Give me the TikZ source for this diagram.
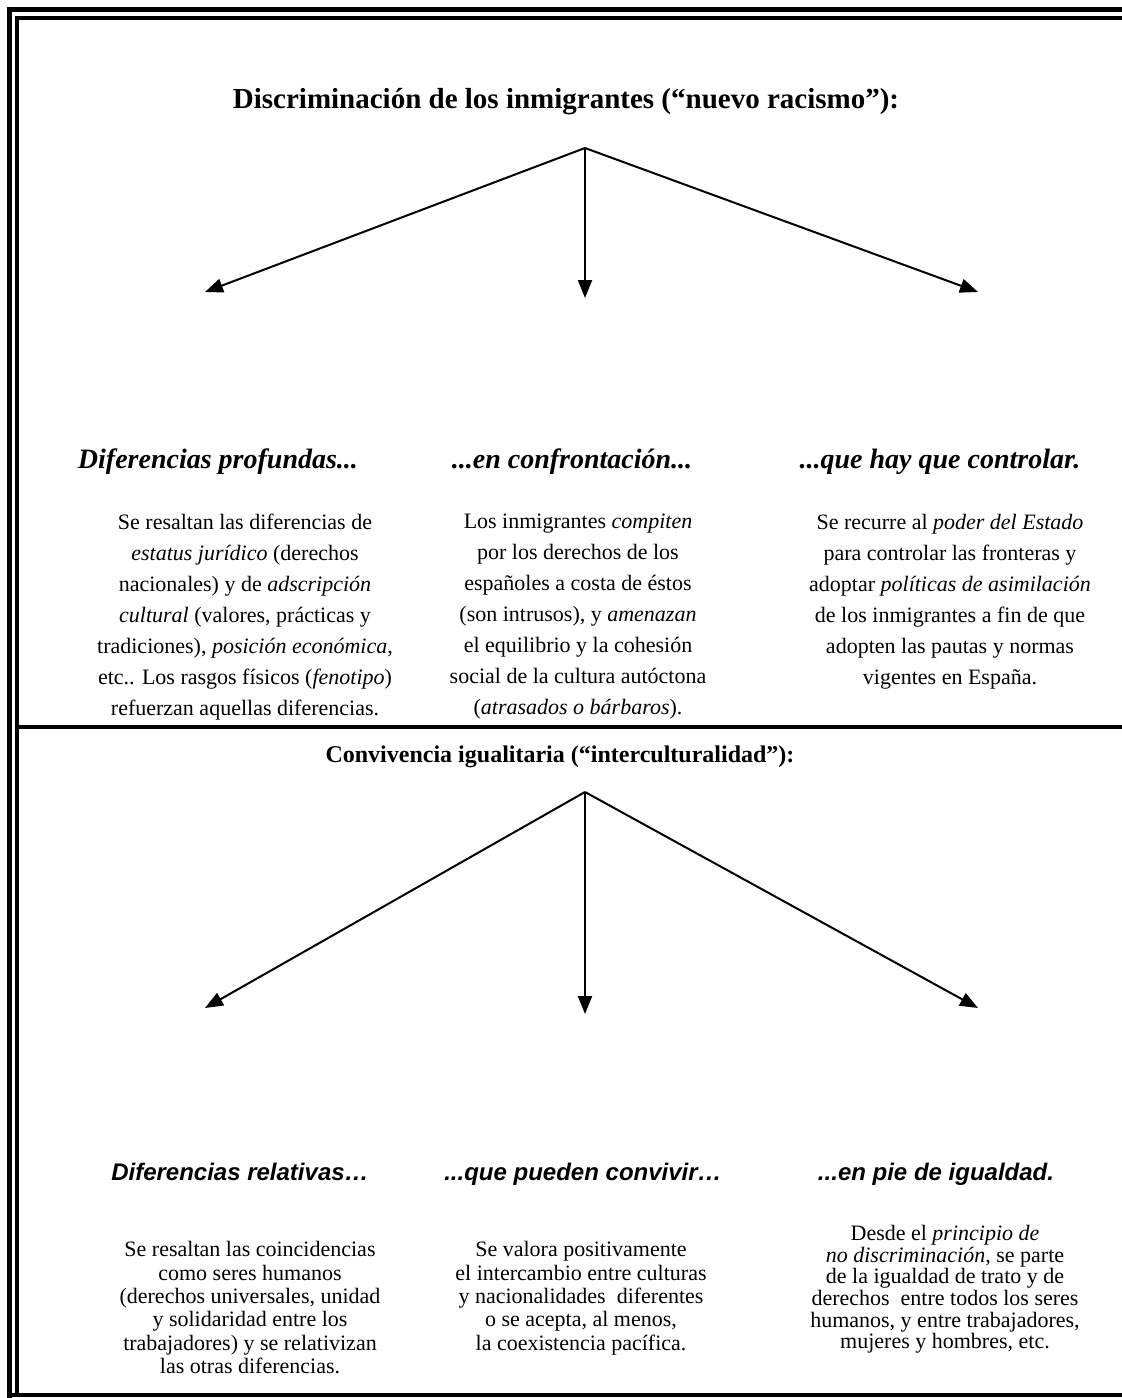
\documentclass[tikz,border=0pt]{standalone}
\usepackage{fontspec}
\setmainfont{Liberation Serif}
\newfontfamily\arialfont{Liberation Sans}
\usetikzlibrary{arrows.meta}

\tikzset{
  rama/.style={line width=1pt,-{Triangle[length=9pt,width=7pt]}},
  titulo/.style={anchor=base,font=\bfseries\fontsize{14.5}{17}\selectfont},
  subtitulo/.style={anchor=base,font=\bfseries\itshape\fontsize{14}{16}\selectfont},
  cuerpo/.style={anchor=north,align=center,inner sep=0pt,font=\fontsize{11}{15.5}\selectfont},
}

\begin{document}
\begin{tikzpicture}[x=0.5pt,y=-0.5pt]
			\useasboundingbox (0,0) rectangle (1122,1398);
			% Marco
			\draw[line width=2.5pt] (9.5,1398) -- (9.5,9.5) -- (1122,9.5);
			\draw[line width=2pt] (17,1395) -- (17,18) -- (1122,18);
			\draw[line width=2pt] (17,727) -- (1122,727);
			\draw[line width=2pt] (7,1395) -- (1122,1395);
			% Parte superior
			\node[titulo] (disc) at (566,108) {Discriminación de los inmigrantes (“nuevo racismo”):};
			\coordinate (vert1) at (585,148);
			\coordinate (izq1) at (205,292);
			\coordinate (cen1) at (585,298);
			\coordinate (der1) at (978,292);
			\foreach \fin in {izq1,cen1,der1}
			\draw[rama] (vert1) -- (\fin);
			\node[subtitulo] (prof) at (218,468) {Diferencias profundas...};
			\node[subtitulo] (conf) at (572,468) {...en confrontación...};
			\node[subtitulo] (cont) at (940,468) {...que hay que controlar.};
			\node[cuerpo] (txtprof) at (245,514) {Se resaltan las diferencias de\\
				\textit{estatus jurídico} (derechos\\
				nacionales) y de \textit{adscripción}\\
				\textit{cultural} (valores, prácticas y\\
				tradiciones), \textit{posición económica},\\
				etc.. Los rasgos físicos (\textit{fenotipo})\\
				refuerzan aquellas diferencias.};
			\node[cuerpo] (txtconf) at (578,514) {Los inmigrantes \textit{compiten}\\
				por los derechos de los\\
				españoles a costa de éstos\\
				(son intrusos), y \textit{amenazan}\\
				el equilibrio y la cohesión\\
				social de la cultura autóctona\\
				(\textit{atrasados o bárbaros}).};
			\node[cuerpo] (txtcont) at (950,514) {Se recurre al \textit{poder del Estado}\\
				para controlar las fronteras y\\
				adoptar \textit{políticas de asimilación}\\
				de los inmigrantes a fin de que\\
				adopten las pautas y normas\\
				vigentes en España.};
			% Parte inferior
			\node[titulo,font=\bfseries\fontsize{12}{14}\selectfont] (conv) at (560,762) {Convivencia igualitaria (“interculturalidad”):};
			\coordinate (vert2) at (585,792);
			\coordinate (izq2) at (205,1008);
			\coordinate (cen2) at (585,1014);
			\coordinate (der2) at (978,1008);
			\foreach \fin in {izq2,cen2,der2}
			\draw[rama] (vert2) -- (\fin);
			\node[subtitulo,font=\arialfont\bfseries\itshape\fontsize{12}{14}\selectfont] (rel) at (240,1180) {Diferencias relativas…};
			\node[subtitulo,font=\arialfont\bfseries\itshape\fontsize{12}{14}\selectfont] (conviv) at (583,1180) {...que pueden convivir…};
			\node[subtitulo,font=\arialfont\bfseries\itshape\fontsize{12}{14}\selectfont] (igual) at (936,1180) {...en pie de igualdad.};
			\node[cuerpo,font=\fontsize{11}{11.7}\selectfont] (txtrel) at (250,1241) {Se resaltan las coincidencias\\
				como seres humanos\\
				(derechos universales, unidad\\
				y solidaridad entre los\\
				trabajadores) y se relativizan\\
				las otras diferencias.};
			\node[cuerpo,font=\fontsize{11}{11.7}\selectfont] (txtconviv) at (581,1241) {Se valora positivamente\\
				el intercambio entre culturas\\
				y nacionalidades\ \ diferentes\\
				o se acepta, al menos,\\
				la coexistencia pacífica.};
			\node[cuerpo,font=\fontsize{11}{10.8}\selectfont] (txtigual) at (945,1225) {Desde el \textit{principio de}\\
				\textit{no discriminación}, se parte\\
				de la igualdad de trato y de\\
				derechos\ \ entre todos los seres\\
				humanos, y entre trabajadores,\\
				mujeres y hombres, etc.};
\end{tikzpicture}
\end{document}
